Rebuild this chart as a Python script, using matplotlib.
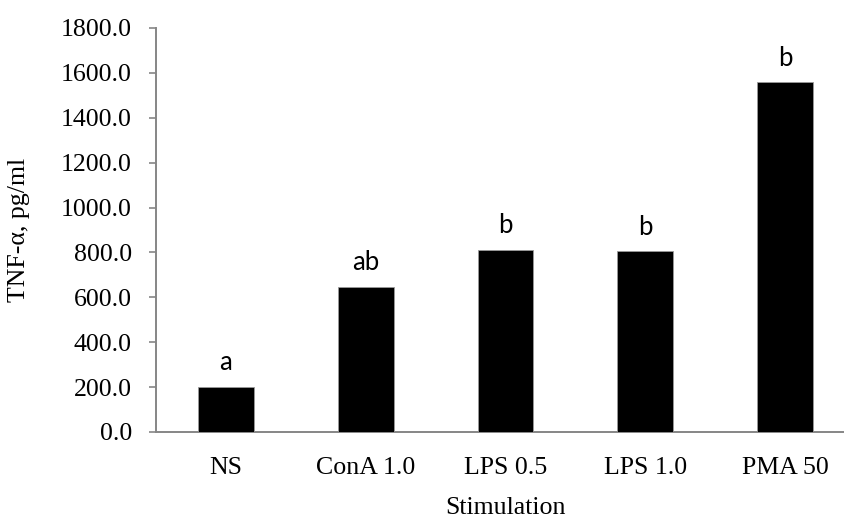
import matplotlib
matplotlib.use("Agg")
import matplotlib.pyplot as plt
import numpy as np

# TNF-alpha response by stimulation
categories = ["NS", "ConA 1.0", "LPS 0.5", "LPS 1.0", "PMA 50"]
tnf_values = [200.0, 648.0, 812.0, 805.0, 1558.0]
group_letters = ["a", "ab", "b", "b", "b"]
y_ticks = [0, 200, 400, 600, 800, 1000, 1200, 1400, 1600, 1800]

W, H = 845, 520
fig = plt.figure(figsize=(W / 100, H / 100), dpi=100)

# plot area in pixels: left spine at 156, zero line at 432, top tick at 28
left, right, bottom, top = 156, 855, 432, 28
ax = fig.add_axes([left / W, (H - bottom) / H, (right - left) / W, (bottom - top) / H])

x = np.arange(len(categories)) + 0.5
ax.bar(x, tnf_values, width=0.4, color="black", edgecolor="#9a9a9a", linewidth=0.6, zorder=3)

for xi, val, lab in zip(x, tnf_values, group_letters):
    ax.annotate(lab, (xi, val), xytext=(0, 8.5), textcoords="offset points",
                ha="center", va="bottom", fontsize=18.5, family="Lato", color="black")

serif = "Liberation Serif"
fs = 18.6

ax.set_xlim(0, len(categories))
ax.set_ylim(0, 1800)
ax.set_yticks(y_ticks)
ax.set_yticklabels([f"{v:.1f}" for v in y_ticks], family=serif, fontsize=fs)
ax.set_xticks(x)
ax.set_xticklabels(categories, family=serif, fontsize=fs)

ax.tick_params(axis="y", direction="out", length=5.3, width=1.2, color="#868686", pad=12)
ax.tick_params(axis="x", length=0, pad=18)

for side in ["top", "right"]:
    ax.spines[side].set_visible(False)
for side in ["left", "bottom"]:
    ax.spines[side].set_color("#868686")
    ax.spines[side].set_linewidth(1.4)

ax.set_ylabel("TNF-\u03b1, pg/ml", family=serif, fontsize=fs)
ax.yaxis.set_label_coords(-0.180, 0.5)
ax.set_xlabel("Stimulation", family=serif, fontsize=fs, va="top")
ax.xaxis.set_label_coords(0.5, -0.161)

fig.savefig("out.png", dpi=100)
